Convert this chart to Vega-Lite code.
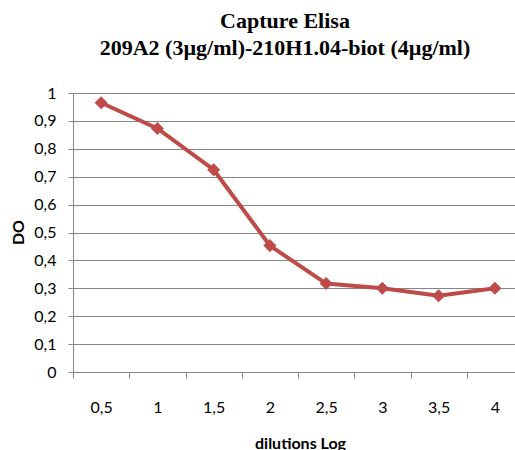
{
  "$schema": "https://vega.github.io/schema/vega-lite/v6.json",
  "width": 442,
  "height": 279,
  "autosize": {"type": "none"},
  "padding": {"left": 73, "top": 93, "right": 0, "bottom": 78},
  "background": "white",
  "title": {
    "text": ["Capture Elisa", "209A2 (3µg/ml)-210H1.04-biot (4µg/ml)"],
    "font": "Liberation Serif",
    "fontSize": 22,
    "fontWeight": "bold",
    "color": "#000000",
    "lineHeight": 27,
    "baseline": "alphabetic",
    "anchor": "middle",
    "frame": "group",
    "offset": 8,
    "dx": -9
  },
  "data": {
    "values": [
      {"dilution": "0,5", "DO": 0.965},
      {"dilution": "1", "DO": 0.873},
      {"dilution": "1,5", "DO": 0.725},
      {"dilution": "2", "DO": 0.453},
      {"dilution": "2,5", "DO": 0.317},
      {"dilution": "3", "DO": 0.3},
      {"dilution": "3,5", "DO": 0.273},
      {"dilution": "4", "DO": 0.3}
    ]
  },
  "encoding": {
    "x": {
      "field": "dilution",
      "type": "ordinal",
      "sort": null,
      "scale": {"type": "band", "range": [0, 450], "paddingInner": 0, "paddingOuter": 0},
      "axis": {
        "title": "dilutions Log",
        "titleFont": "Lato",
        "titleFontSize": 16,
        "titleFontWeight": "bold",
        "titleColor": "#000000",
        "titleX": 227,
        "titleY": 76,
        "titleBaseline": "alphabetic",
        "titleAnchor": "middle",
        "labelFont": "Lato",
        "labelFontSize": 16,
        "labelColor": "#000000",
        "labelAngle": 0,
        "labelBaseline": "alphabetic",
        "labelPadding": 34,
        "tickBand": "extent",
        "tickSize": 6,
        "tickColor": "#868686",
        "tickWidth": 1,
        "domainColor": "#868686",
        "domainWidth": 1,
        "grid": false
      }
    },
    "y": {
      "field": "DO",
      "type": "quantitative",
      "scale": {"domain": [0, 1], "nice": false, "zero": true},
      "axis": {
        "title": "DO",
        "titleFont": "Lato",
        "titleFontSize": 16,
        "titleFontWeight": "bold",
        "titleColor": "#000000",
        "titleAngle": -90,
        "titleX": -55,
        "titleY": 139,
        "titleBaseline": "middle",
        "titleAlign": "center",
        "values": [0, 0.1, 0.2, 0.3, 0.4, 0.5, 0.6, 0.7, 0.8, 0.9, 1],
        "labelExpr": "replace(format(datum.value, '~g'), '.', ',')",
        "labelFont": "Lato",
        "labelFontSize": 16,
        "labelColor": "#000000",
        "labelPadding": 12,
        "tickSize": 5,
        "tickColor": "#868686",
        "domainColor": "#868686",
        "grid": true,
        "gridColor": "#868686",
        "gridWidth": 1
      }
    }
  },
  "layer": [
    {"mark": {"type": "line", "color": "#BE4B48", "strokeWidth": 4}},
    {"mark": {"type": "point", "shape": "diamond", "filled": true, "color": "#BE4B48", "opacity": 1, "size": 170}}
  ],
  "config": {
    "view": {"stroke": null}
  }
}
